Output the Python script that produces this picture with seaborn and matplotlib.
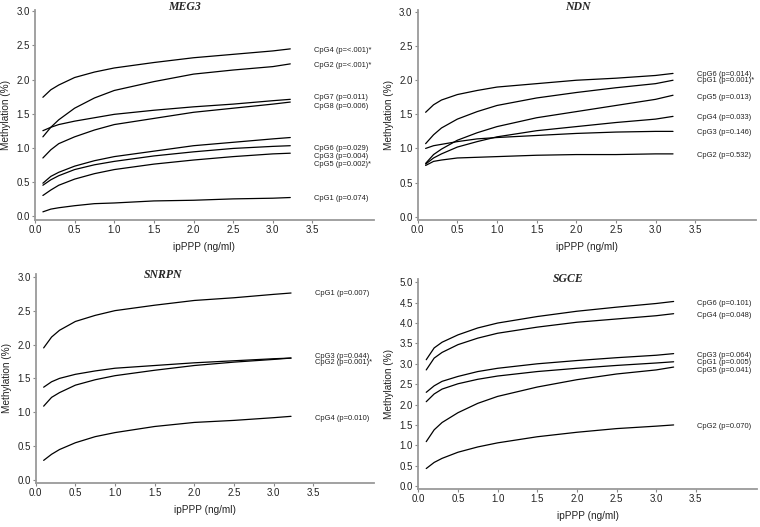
import numpy as np
import pandas as pd
import seaborn as sns
import matplotlib.pyplot as plt

ippp = [0.1, 0.2, 0.3, 0.5, 0.75, 1.0, 1.5, 2.0, 2.5, 3.0, 3.22]

# MEG3
meg3_sites = ["CpG4", "CpG2", "CpG7", "CpG8", "CpG6", "CpG3", "CpG5", "CpG1"]
meg3_pvals = ["(p=<.001)*", "(p=<.001)*", "(p=0.011)", "(p=0.006)",
              "(p=0.029)", "(p=0.004)", "(p=0.002)*", "(p=0.074)"]
meg3_cpg4 = [1.74, 1.85, 1.92, 2.03, 2.11, 2.17, 2.25, 2.32, 2.37, 2.42, 2.45]
meg3_cpg2 = [1.16, 1.30, 1.41, 1.58, 1.73, 1.84, 1.97, 2.08, 2.14, 2.19, 2.23]
meg3_cpg7 = [1.25, 1.30, 1.34, 1.39, 1.44, 1.49, 1.55, 1.60, 1.64, 1.69, 1.71]
meg3_cpg8 = [0.85, 0.97, 1.06, 1.16, 1.26, 1.34, 1.43, 1.52, 1.58, 1.64, 1.67]
meg3_cpg6 = [0.48, 0.58, 0.64, 0.73, 0.81, 0.87, 0.95, 1.03, 1.08, 1.13, 1.15]
meg3_cpg3 = [0.45, 0.53, 0.59, 0.68, 0.75, 0.80, 0.88, 0.94, 0.99, 1.02, 1.03]
meg3_cpg5 = [0.30, 0.38, 0.45, 0.54, 0.62, 0.68, 0.76, 0.82, 0.87, 0.91, 0.92]
meg3_cpg1 = [0.06, 0.10, 0.12, 0.15, 0.18, 0.19, 0.22, 0.23, 0.25, 0.26, 0.27]
meg3_label_y = [2.42, 2.21, 1.74, 1.61, 0.99, 0.87, 0.76, 0.25]

# NDN
ndn_sites = ["CpG6", "CpG1", "CpG5", "CpG4", "CpG3", "CpG2"]
ndn_pvals = ["(p=0.014)", "(p=0.001)*", "(p=0.013)", "(p=0.033)",
             "(p=0.146)", "(p=0.532)"]
ndn_cpg6 = [1.53, 1.64, 1.71, 1.79, 1.85, 1.90, 1.95, 2.00, 2.03, 2.07, 2.10]
ndn_cpg1 = [1.07, 1.20, 1.30, 1.43, 1.54, 1.63, 1.74, 1.82, 1.89, 1.95, 2.00]
ndn_cpg5 = [0.78, 0.91, 0.99, 1.12, 1.23, 1.32, 1.45, 1.54, 1.63, 1.72, 1.78]
ndn_cpg4 = [0.77, 0.86, 0.92, 1.02, 1.10, 1.17, 1.26, 1.32, 1.38, 1.43, 1.47]
ndn_cpg3 = [1.00, 1.04, 1.06, 1.10, 1.14, 1.16, 1.19, 1.22, 1.24, 1.25, 1.25]
ndn_cpg2 = [0.75, 0.81, 0.83, 0.86, 0.87, 0.88, 0.90, 0.91, 0.91, 0.92, 0.92]
ndn_label_y = [2.08, 1.99, 1.75, 1.46, 1.23, 0.90]

# SNRPN
snrpn_sites = ["CpG1", "CpG3", "CpG2", "CpG4"]
snrpn_pvals = ["(p=0.007)", "(p=0.044)", "(p=0.001)*", "(p=0.010)"]
snrpn_cpg1 = [1.95, 2.11, 2.21, 2.34, 2.43, 2.50, 2.58, 2.65, 2.69, 2.74, 2.76]
snrpn_cpg3 = [1.37, 1.45, 1.50, 1.56, 1.61, 1.65, 1.69, 1.73, 1.76, 1.79, 1.80]
snrpn_cpg2 = [1.09, 1.22, 1.29, 1.40, 1.48, 1.54, 1.62, 1.69, 1.74, 1.78, 1.80]
snrpn_cpg4 = [0.29, 0.38, 0.45, 0.55, 0.64, 0.70, 0.79, 0.85, 0.88, 0.92, 0.94]
snrpn_label_y = [2.75, 1.82, 1.73, 0.91]

# SGCE
sgce_sites = ["CpG6", "CpG4", "CpG3", "CpG1", "CpG5", "CpG2"]
sgce_pvals = ["(p=0.101)", "(p=0.048)", "(p=0.064)", "(p=0.005)",
              "(p=0.041)", "(p=0.070)"]
sgce_cpg6 = [3.10, 3.39, 3.53, 3.71, 3.88, 4.00, 4.16, 4.29, 4.39, 4.48, 4.53]
sgce_cpg4 = [2.85, 3.14, 3.28, 3.47, 3.63, 3.75, 3.90, 4.02, 4.10, 4.18, 4.23]
sgce_cpg3 = [2.30, 2.46, 2.57, 2.69, 2.81, 2.89, 3.00, 3.08, 3.15, 3.21, 3.25]
sgce_cpg1 = [2.07, 2.26, 2.38, 2.51, 2.62, 2.70, 2.81, 2.89, 2.96, 3.02, 3.05]
sgce_cpg5 = [1.09, 1.38, 1.56, 1.80, 2.03, 2.20, 2.43, 2.61, 2.75, 2.85, 2.92]
sgce_cpg2 = [0.43, 0.58, 0.68, 0.83, 0.96, 1.06, 1.21, 1.32, 1.41, 1.47, 1.50]
sgce_label_y = [4.49, 4.19, 3.20, 3.02, 2.84, 1.46]


def build(sites, curves):
    rows = []
    for site, vals in zip(sites, curves):
        for x, v in zip(ippp, vals):
            rows.append({"site": site, "ippp": x, "methylation": v})
    return pd.DataFrame(rows)


sns.set_style("ticks")
plt.rcParams["font.family"] = ["Liberation Sans", "DejaVu Sans"]

fig = plt.figure(figsize=(7.6, 5.27), dpi=100)

panels = [
    ("MEG3", meg3_sites, meg3_pvals,
     [meg3_cpg4, meg3_cpg2, meg3_cpg7, meg3_cpg8, meg3_cpg6, meg3_cpg3, meg3_cpg5, meg3_cpg1],
     meg3_label_y, [0.046, 0.5825, 0.4455, 0.3985], (-0.06, 3.02), np.arange(0, 3.01, 0.5), (1.89, 3.07)),
    ("NDN", ndn_sites, ndn_pvals,
     [ndn_cpg6, ndn_cpg1, ndn_cpg5, ndn_cpg4, ndn_cpg3, ndn_cpg2],
     ndn_label_y, [0.5496, 0.5825, 0.4455, 0.3985], (-0.05, 3.03), np.arange(0, 3.01, 0.5), (2.02, 3.07)),
    ("SNRPN", snrpn_sites, snrpn_pvals,
     [snrpn_cpg1, snrpn_cpg3, snrpn_cpg2, snrpn_cpg4],
     snrpn_label_y, [0.047, 0.084, 0.4455, 0.396], (-0.04, 3.04), np.arange(0, 3.01, 0.5), (1.61, 3.02)),
    ("SGCE", sgce_sites, sgce_pvals,
     [sgce_cpg6, sgce_cpg4, sgce_cpg3, sgce_cpg1, sgce_cpg5, sgce_cpg2],
     sgce_label_y, [0.5504, 0.0715, 0.4455, 0.399], (-0.08, 5.08), np.arange(0, 5.01, 0.5), (1.89, 5.09)),
]

for gene, sites, pvals, curves, label_y, pos, ylim, yticks, title_xy in panels:
    ax = fig.add_axes(pos)
    df = build(sites, curves)
    sns.lineplot(data=df, x="ippp", y="methylation", units="site", estimator=None,
                 color="black", linewidth=0.9, ax=ax)
    for site, p, ly in zip(sites, pvals, label_y):
        ax.text(3.52, ly, f"{site} {p}", fontsize=5.4, color="#222222",
                ha="left", va="center")
    ax.text(title_xy[0], title_xy[1], gene, fontsize=8.5, fontweight="bold",
            fontstyle="italic", family=["Liberation Serif", "DejaVu Serif"],
            ha="center", va="center")
    ax.set_xlim(0, 4.27)
    ax.set_ylim(*ylim)
    ax.set_xticks(np.arange(0, 3.51, 0.5))
    ax.set_xticklabels([f"{t:.1f}" for t in np.arange(0, 3.51, 0.5)])
    ax.set_yticks(yticks)
    ax.set_yticklabels([f"{t:.1f}" for t in yticks])
    ax.tick_params(labelsize=7, length=2.2, width=0.8, pad=1.5,
                   color="#888888", labelcolor="#222222")
    ax.set_xlabel("ipPPP (ng/ml)", fontsize=7.2, color="#222222", labelpad=5)
    ax.set_ylabel("Methylation (%)", fontsize=7.2, color="#222222", labelpad=4)
    for side in ["left", "bottom"]:
        ax.spines[side].set_color("#9a9a9a")
        ax.spines[side].set_linewidth(1.3)
    ax.spines["right"].set_visible(False)
    ax.spines["top"].set_visible(False)
    ax.patch.set_alpha(0)

fig.savefig("out.png", dpi=100)
